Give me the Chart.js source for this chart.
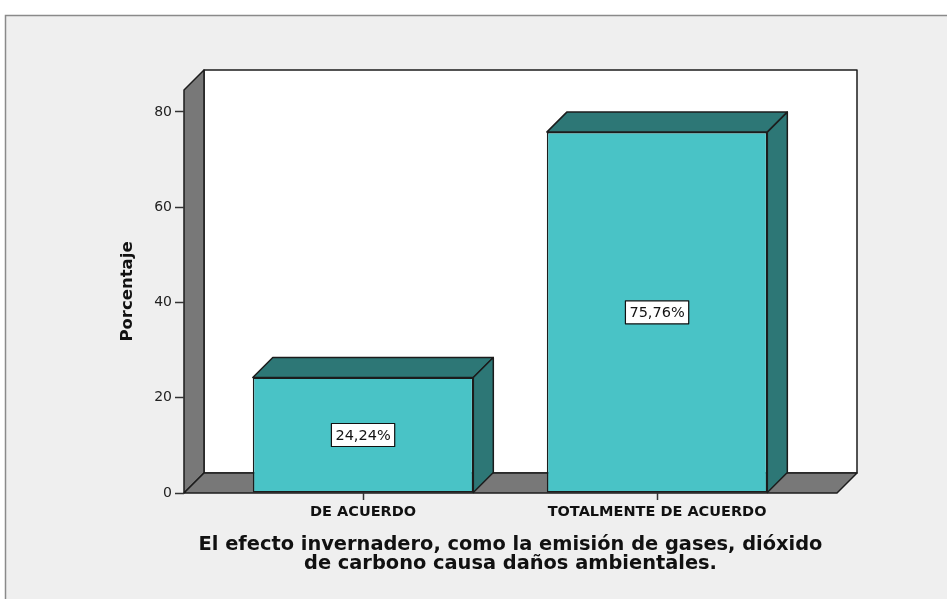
<!DOCTYPE html>
<html>
<head>
<meta charset="utf-8">
<script src="https://cdn.jsdelivr.net/npm/chart.js@4.4.1/dist/chart.umd.min.js"></script>
<style>
  html, body { margin: 0; padding: 0; background: #fff; }
</style>
</head>
<body>
<canvas id="chart" width="947" height="599"></canvas>
<script>
const categories = ['DE ACUERDO', 'TOTALMENTE DE ACUERDO'];
const percentages = [24.24, 75.76];
const pctLabels = ['24,24%', '75,76%'];
const yTicks = [0, 20, 40, 60, 80];
const yTitle = 'Porcentaje';
const xTitle = ['El efecto invernadero, como la emisión de gases, dióxido', 'de carbono causa daños ambientales.'];

const DEPTH = 20;
const FRONT = '#49c3c6';
const DARK = '#2d7776';
const WALL = '#787878';
const EDGE = '#1c1c1c';

function poly(ctx, pts, fill) {
    ctx.beginPath();
    ctx.moveTo(pts[0][0], pts[0][1]);
    for (let i = 1; i < pts.length; i++) ctx.lineTo(pts[i][0], pts[i][1]);
    ctx.closePath();
    ctx.fillStyle = fill;
    ctx.fill();
    ctx.stroke();
}

// frame, back wall, left wall and floor of the 3D box
const box3d = {
    id: 'box3d',
    beforeDraw(chart) {
        const {ctx, chartArea: a, width, height} = chart;
        const d = DEPTH;
        ctx.save();
        ctx.fillStyle = '#ffffff';
        ctx.fillRect(0, 0, width, height);
        ctx.fillStyle = '#efefef';
        ctx.fillRect(5, 15, width - 5, height - 15);
        ctx.strokeStyle = '#8a8a8a';
        ctx.lineWidth = 1.5;
        ctx.beginPath();
        ctx.moveTo(5.5, height);
        ctx.lineTo(5.5, 15.5);
        ctx.lineTo(width, 15.5);
        ctx.stroke();

        ctx.strokeStyle = EDGE;
        ctx.lineWidth = 1.5;
        ctx.lineJoin = 'round';
        poly(ctx, [[a.left + d, a.top - d], [a.right + d, a.top - d], [a.right + d, a.bottom - d], [a.left + d, a.bottom - d]], '#ffffff');
        poly(ctx, [[a.left, a.top], [a.left + d, a.top - d], [a.left + d, a.bottom - d], [a.left, a.bottom]], WALL);
        poly(ctx, [[a.left, a.bottom], [a.left + d, a.bottom - d], [a.right + d, a.bottom - d], [a.right, a.bottom]], WALL);
        ctx.restore();
    },
    afterDatasetsDraw(chart) {
        const {ctx} = chart;
        const d = DEPTH;
        const bars = chart.getDatasetMeta(0).data;
        ctx.save();
        ctx.strokeStyle = EDGE;
        ctx.lineWidth = 1.5;
        ctx.lineJoin = 'round';
        bars.forEach(bar => {
            const l = bar.x - bar.width / 2, r = bar.x + bar.width / 2;
            poly(ctx, [[l, bar.y], [l + d, bar.y - d], [r + d, bar.y - d], [r, bar.y]], DARK);
            poly(ctx, [[r, bar.y], [r + d, bar.y - d], [r + d, bar.base - d], [r, bar.base]], DARK);
        });
        // value boxes
        ctx.font = '14.5px "DejaVu Sans"';
        ctx.textAlign = 'center';
        ctx.textBaseline = 'middle';
        bars.forEach((bar, i) => {
            const txt = pctLabels[i];
            const w = ctx.measureText(txt).width + 8, h = 23;
            const cy = (bar.y + bar.base) / 2;
            ctx.fillStyle = '#ffffff';
            ctx.fillRect(bar.x - w / 2, cy - h / 2, w, h);
            ctx.strokeStyle = '#111';
            ctx.lineWidth = 1.2;
            ctx.strokeRect(bar.x - w / 2, cy - h / 2, w, h);
            ctx.fillStyle = '#111';
            ctx.fillText(txt, bar.x, cy + 1);
        });
        ctx.restore();
    }
};

const config = {
    type: 'bar',
    data: {
        datasets: [{
            data: percentages.map((v, i) => ({x: i, y: v})),
            backgroundColor: FRONT,
            borderColor: EDGE,
            borderWidth: 1.5,
            borderSkipped: false,
            barPercentage: 0.75,
            categoryPercentage: 1
        }]
    },
    options: {
        responsive: false,
        animation: false,
        devicePixelRatio: 1,
        layout: {padding: {left: 110, right: 110, top: 90, bottom: 25}},
        plugins: {legend: {display: false}, tooltip: {enabled: false}},
        scales: {
            x: {
                type: 'linear',
                offset: false,
                min: -0.609,
                max: 1.612,
                afterFit: s => { s.height = 81; },
                afterBuildTicks: s => { s.ticks = categories.map((c, i) => ({value: i})); },
                grid: {offset: false, drawOnChartArea: false, tickLength: 7, color: '#333', tickWidth: 1.5},
                border: {display: false},
                ticks: {
                    callback: v => categories[v],
                    autoSkip: false,
                    maxRotation: 0,
                    padding: 4,
                    color: '#111',
                    font: {family: 'DejaVu Sans', weight: 'bold', size: 14.5}
                },
                title: {
                    display: true,
                    text: xTitle,
                    color: '#111',
                    padding: {top: 0, bottom: 0},
                    font: {family: 'DejaVu Sans', weight: 'bold', size: 19.4, lineHeight: '19.5px'}
                }
            },
            y: {
                min: 0,
                max: 84.6,
                afterFit: s => { s.width = 74; },
                afterBuildTicks: s => { s.ticks = yTicks.map(v => ({value: v})); },
                grid: {drawOnChartArea: false, tickLength: 9, color: '#333', tickWidth: 1.5},
                border: {display: false},
                ticks: {
                    padding: 3,
                    color: '#222',
                    font: {family: 'DejaVu Sans', size: 14}
                },
                title: {
                    display: true,
                    text: yTitle,
                    color: '#111',
                    padding: {top: 8, bottom: 0},
                    font: {family: 'DejaVu Sans', weight: 'bold', size: 16.5}
                }
            }
        }
    },
    plugins: [box3d]
};

const myChart = new Chart(document.getElementById('chart'), config);
</script>
</body>
</html>
